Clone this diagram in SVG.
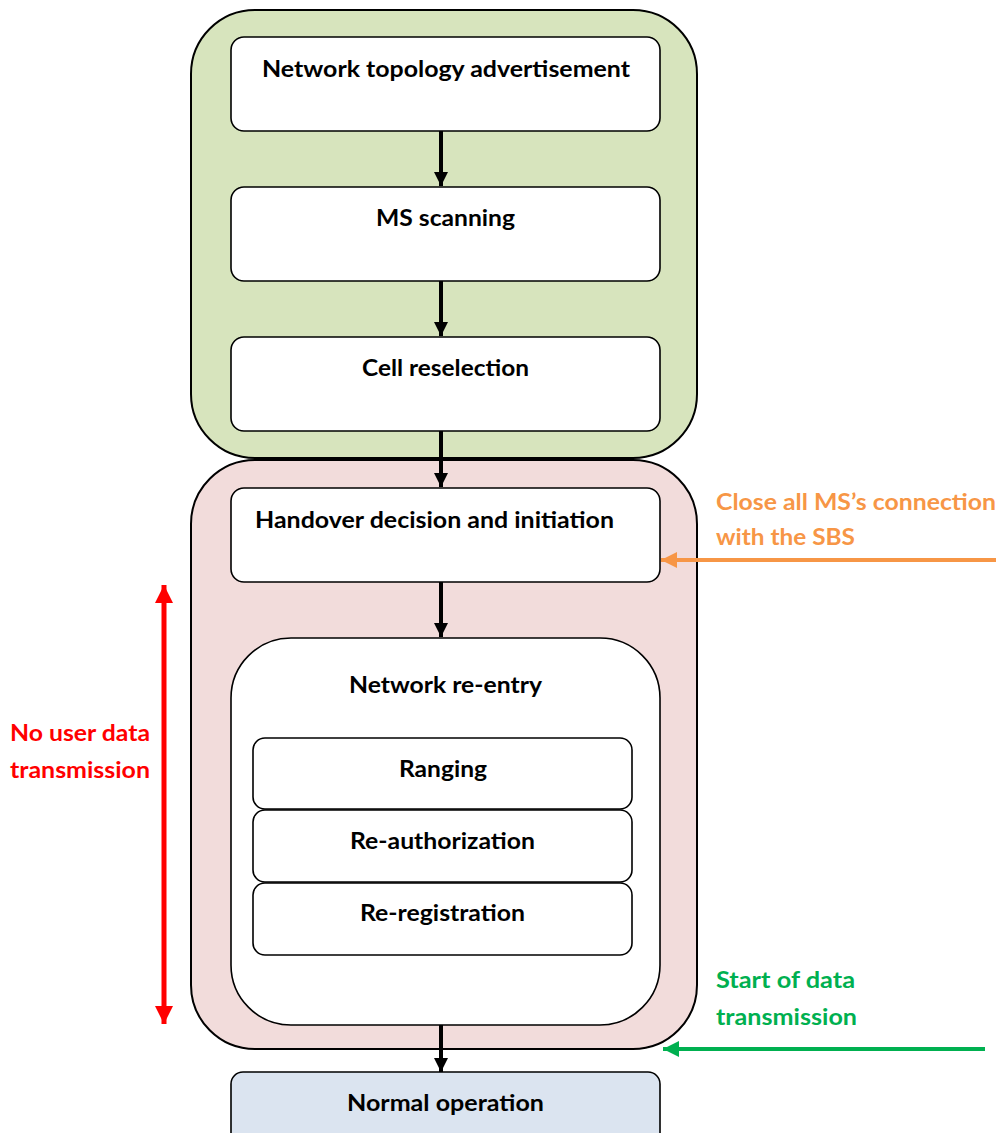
<svg xmlns="http://www.w3.org/2000/svg" width="996" height="1133" viewBox="0 0 996 1133">
  <style>
    .container { stroke: #000; stroke-width: 2; }
    .box { fill: #fff; stroke: #000; stroke-width: 1.6; }
    .label { font-family: Lato, "Open Sans", "Liberation Sans", sans-serif; font-weight: bold; font-size: 22px; fill: #000; }
    .note { font-family: Lato, "Open Sans", "Liberation Sans", sans-serif; font-weight: bold; font-size: 22px; }
    .flow { stroke: #000; stroke-width: 4; fill: none; }
  </style>
  <defs>
    <marker id="headBlack" viewBox="0 0 10 10" refX="10" refY="5" markerWidth="3.6" markerHeight="3.8" orient="auto" markerUnits="strokeWidth">
      <path d="M0,0 L10,5 L0,10 Z" fill="#000"/>
    </marker>
    <marker id="headOrange" viewBox="0 0 10 10" refX="10" refY="5" markerWidth="4" markerHeight="4" orient="auto" markerUnits="strokeWidth">
      <path d="M0,0 L10,5 L0,10 Z" fill="#f79646"/>
    </marker>
    <marker id="headGreen" viewBox="0 0 10 10" refX="10" refY="5" markerWidth="4" markerHeight="4" orient="auto" markerUnits="strokeWidth">
      <path d="M0,0 L10,5 L0,10 Z" fill="#00b050"/>
    </marker>
    <marker id="headRed" viewBox="0 0 10 10" refX="10" refY="5" markerWidth="3.6" markerHeight="4" orient="auto-start-reverse" markerUnits="strokeWidth">
      <path d="M0,0 L10,5 L0,10 Z" fill="#ff0000"/>
    </marker>
  </defs>

  <rect width="996" height="1133" fill="#fff"/>

  <!-- Phase containers -->
  <g id="scanning-phase">
    <rect class="container" x="191" y="10" width="506" height="448" rx="64" fill="#d7e4bd"/>
  </g>
  <g id="handover-phase">
    <rect class="container" x="191" y="460" width="506" height="589" rx="64" fill="#f2dcdb"/>
  </g>

  <!-- Steps -->
  <g id="topology-advertisement">
    <rect class="box" x="231" y="37" width="429" height="94" rx="13"/>
    <text class="label" x="446" y="77" text-anchor="middle" textLength="368" lengthAdjust="spacingAndGlyphs">Network topology advertisement</text>
  </g>
  <g id="ms-scanning">
    <rect class="box" x="231" y="187" width="429" height="94" rx="13"/>
    <text class="label" x="445.5" y="226" text-anchor="middle" textLength="139" lengthAdjust="spacingAndGlyphs">MS scanning</text>
  </g>
  <g id="cell-reselection">
    <rect class="box" x="231" y="337" width="429" height="94" rx="13"/>
    <text class="label" x="445.5" y="376" text-anchor="middle" textLength="167" lengthAdjust="spacingAndGlyphs">Cell reselection</text>
  </g>
  <g id="handover-decision">
    <rect class="box" x="231" y="488" width="429" height="94" rx="13"/>
    <text class="label" x="434.5" y="528" text-anchor="middle" textLength="359" lengthAdjust="spacingAndGlyphs">Handover decision and initiation</text>
  </g>
  <g id="network-reentry">
    <rect class="box" x="231" y="638" width="429" height="387" rx="60"/>
    <text class="label" x="445.5" y="693" text-anchor="middle" textLength="193" lengthAdjust="spacingAndGlyphs">Network re-entry</text>
  </g>
  <g id="ranging">
    <rect class="box" x="253" y="738" width="379" height="71" rx="12"/>
    <text class="label" x="443" y="777" text-anchor="middle" textLength="88" lengthAdjust="spacingAndGlyphs">Ranging</text>
  </g>
  <g id="re-authorization">
    <rect class="box" x="253" y="810" width="379" height="72" rx="12"/>
    <text class="label" x="442.5" y="849" text-anchor="middle" textLength="185" lengthAdjust="spacingAndGlyphs">Re-authorization</text>
  </g>
  <g id="re-registration">
    <rect class="box" x="253" y="883" width="379" height="72" rx="12"/>
    <text class="label" x="442.5" y="921" text-anchor="middle" textLength="165" lengthAdjust="spacingAndGlyphs">Re-registration</text>
  </g>
  <g id="normal-operation">
    <rect class="box" x="231" y="1072" width="429" height="80" rx="12" style="fill:#dbe4f0"/>
    <text class="label" x="445.5" y="1111" text-anchor="middle" textLength="197" lengthAdjust="spacingAndGlyphs">Normal operation</text>
  </g>

  <!-- Connectors -->
  <g id="connectors">
    <line class="flow" x1="441" y1="131" x2="441" y2="186" marker-end="url(#headBlack)"/>
    <line class="flow" x1="441" y1="281" x2="441" y2="336" marker-end="url(#headBlack)"/>
    <line class="flow" x1="441" y1="431" x2="441" y2="487" marker-end="url(#headBlack)"/>
    <line class="flow" x1="441" y1="582" x2="441" y2="637" marker-end="url(#headBlack)"/>
    <line class="flow" x1="441" y1="1025" x2="441" y2="1072" marker-end="url(#headBlack)"/>
    <line x1="996" y1="560" x2="661" y2="560" stroke="#f79646" stroke-width="4" marker-end="url(#headOrange)"/>
    <line x1="985" y1="1049" x2="663" y2="1049" stroke="#00b050" stroke-width="4" marker-end="url(#headGreen)"/>
    <line x1="164" y1="585" x2="164" y2="1024" stroke="#ff0000" stroke-width="5" marker-start="url(#headRed)" marker-end="url(#headRed)"/>
  </g>

  <!-- Annotations -->
  <g id="note-close-connections" class="note" fill="#f79646">
    <text x="716" y="510" textLength="280" lengthAdjust="spacingAndGlyphs">Close all MS’s connection</text>
    <text x="716" y="545" textLength="139" lengthAdjust="spacingAndGlyphs">with the SBS</text>
  </g>
  <g id="note-no-user-data" class="note" fill="#ff0000">
    <text x="10" y="741" textLength="140" lengthAdjust="spacingAndGlyphs">No user data</text>
    <text x="10" y="778" textLength="140" lengthAdjust="spacingAndGlyphs">transmission</text>
  </g>
  <g id="note-start-data" class="note" fill="#00b050">
    <text x="716" y="988" textLength="139" lengthAdjust="spacingAndGlyphs">Start of data</text>
    <text x="716" y="1025" textLength="141" lengthAdjust="spacingAndGlyphs">transmission</text>
  </g>
</svg>
